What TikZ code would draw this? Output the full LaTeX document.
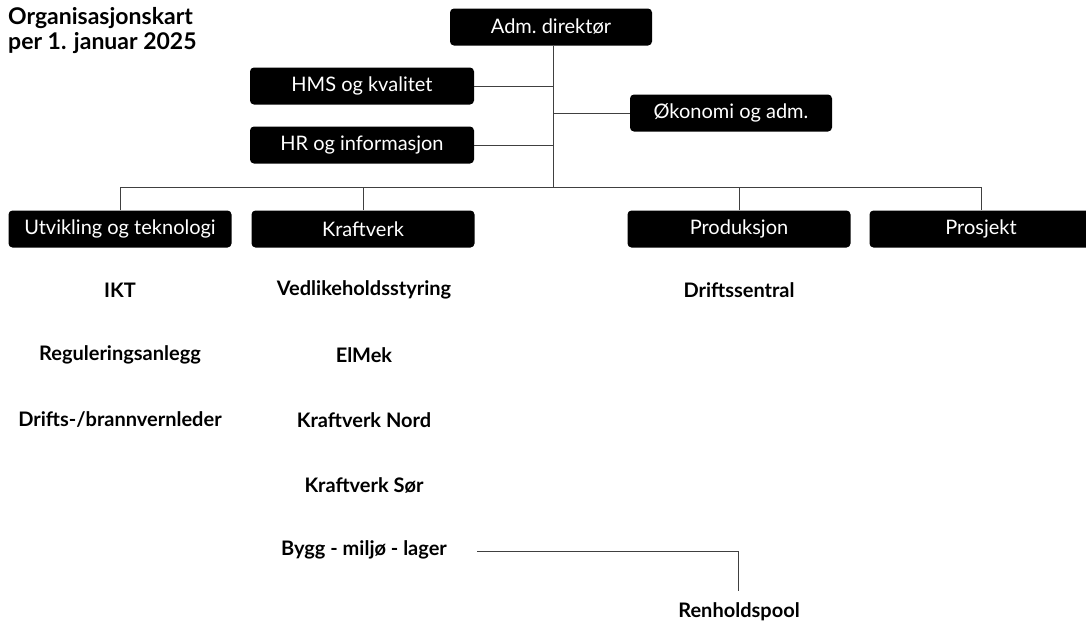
\documentclass[tikz,border=0pt]{standalone}
\usepackage{fontspec}
\setmainfont{Lato}
\begin{document}
\begin{tikzpicture}[x=1pt,y=-1pt,
  box/.style={fill=black, text=white, rounded corners=4pt, minimum height=37pt, inner sep=0pt, font=\fontsize{20}{24}\selectfont},
  lbl/.style={font=\fontsize{20}{24}\selectfont\bfseries},
  conn/.style={draw=black!75, line width=0.8pt}]
\useasboundingbox (0,0) rectangle (1086,625);
\begin{scope}
\clip (0,0) rectangle (1086,625);
\node[anchor=west, align=left, inner sep=0pt, font=\fontsize{23}{25.5}\selectfont\bfseries] (title) at (8,30.5) {Organisasjonskart\\per 1. januar 2025};

\node[box, minimum width=202pt] (adm) at (551,27) {Adm.\ direktør};
\node[box, minimum width=224pt] (hms) at (362,86) {HMS og kvalitet};
\node[box, minimum width=202pt] (oko) at (731,113) {Økonomi og adm.};
\node[box, minimum width=224pt] (hr) at (362,145) {HR og informasjon};

\coordinate (bus) at (553,187);

\node[box, minimum width=223pt] (ut) at (120,229) {Utvikling og teknologi};
\node[box, minimum width=223pt] (kr) at (363,229) {Kraftverk};
\node[box, minimum width=223pt] (pr) at (739,229) {Produksjon};
\node[box, minimum width=223pt] (pj) at (981,229) {Prosjekt};

\node[lbl] (ikt) at (120,290) {IKT};
\node[lbl] (reg) at (120,355) {Reguleringsanlegg};
\node[lbl] (drb) at (120,420) {Drifts-/brannvernleder};
\node[lbl] (ved) at (364,290) {Vedlikeholdsstyring};
\node[lbl] (elm) at (364,355) {ElMek};
\node[lbl] (kvn) at (364,420) {Kraftverk Nord};
\node[lbl] (kvs) at (364,485) {Kraftverk Sør};
\node[lbl] (byg) at (364,550) {Bygg - miljø - lager};
\node[lbl] (dri) at (739,290) {Driftssentral};
\node[lbl] (ren) at (739,612) {Renholdspool};

\draw[conn] (adm.south -| bus) -- (bus);
\draw[conn] (hms.east) -- (hms.east -| bus);
\draw[conn] (oko.west) -- (oko.west -| bus);
\draw[conn] (hr.east) -- (hr.east -| bus);
\draw[conn] (ut.north) -- (ut.north |- bus) -- (pj.north |- bus) -- (pj.north);
\draw[conn] (kr.north) -- (kr.north |- bus);
\draw[conn] (pr.north) -- (pr.north |- bus);

\coordinate (bstart) at (477,551);
\coordinate (rtop) at (738,591);
\draw[conn] (bstart) -| (rtop);
\end{scope}
\end{tikzpicture}
\end{document}
